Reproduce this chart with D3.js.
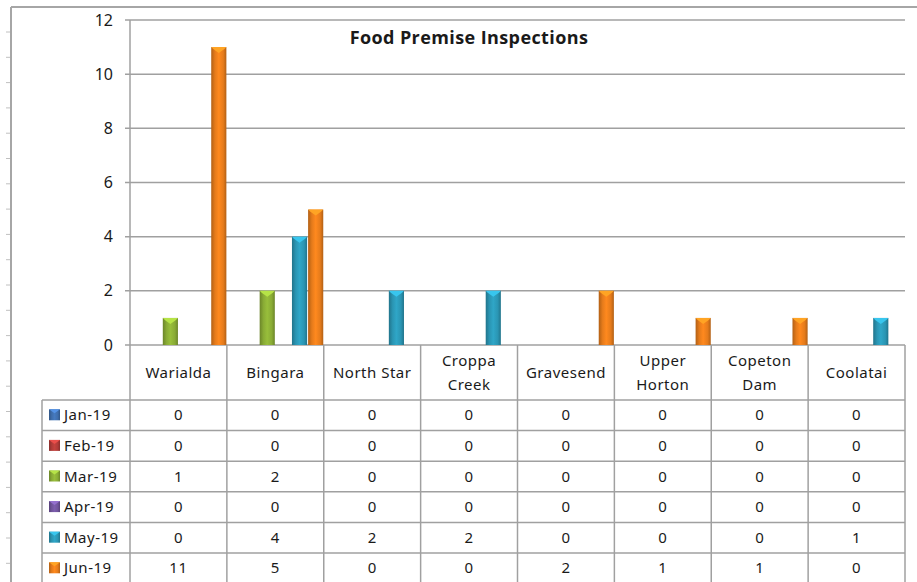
<!DOCTYPE html>
<html lang="en">
<head>
    <meta charset="UTF-8">
    <title>Food Premise Inspections</title>
    <script src="https://cdn.jsdelivr.net/npm/d3@7"></script>
    <style>
        body { margin: 0; background: #fff; }
        text { font-family: "Noto Sans", "Open Sans", sans-serif; fill: #1a1a1a; }
        .tbl { font-size: 15px; letter-spacing: 0.5px; }
    </style>
</head>
<body>
<script>
    const towns = ['Warialda', 'Bingara', 'North Star', 'Croppa Creek', 'Gravesend', 'Upper Horton', 'Copeton Dam', 'Coolatai']
    const townLines = [['Warialda'], ['Bingara'], ['North Star'], ['Croppa', 'Creek'], ['Gravesend'], ['Upper', 'Horton'], ['Copeton', 'Dam'], ['Coolatai']]
    const months = ['Jan-19', 'Feb-19', 'Mar-19', 'Apr-19', 'May-19', 'Jun-19']
    const jan = [0, 0, 0, 0, 0, 0, 0, 0]
    const feb = [0, 0, 0, 0, 0, 0, 0, 0]
    const mar = [1, 2, 0, 0, 0, 0, 0, 0]
    const apr = [0, 0, 0, 0, 0, 0, 0, 0]
    const may = [0, 4, 2, 2, 0, 0, 0, 1]
    const jun = [11, 5, 0, 0, 2, 1, 1, 0]
    const yTicks = [0, 2, 4, 6, 8, 10, 12]
    const colors = ['#3f6eac', '#b03b38', '#89ab35', '#70549b', '#2a95b3', '#e57b1b']

    const series = [jan, feb, mar, apr, may, jun]
    const [width, height] = [917, 582]
    const [plotLeft, plotRight, plotTop, base] = [130, 905, 20, 345]
    const rowTop = 400, rowH = 30.6, keyLeft = 42

    const svg = d3.select('body').append('svg')
        .attr('width', width).attr('height', height)

    const defs = svg.append('defs')
    colors.forEach((c, i) => {
        const g = defs.append('linearGradient').attr('id', 'g' + i)
            .attr('x1', 0).attr('x2', 1).attr('y1', 0).attr('y2', 0)
        const dark = d3.color(c).darker(0.7), light = d3.color(c).brighter(0.3)
        g.append('stop').attr('offset', '0%').attr('stop-color', dark)
        g.append('stop').attr('offset', '25%').attr('stop-color', c)
        g.append('stop').attr('offset', '50%').attr('stop-color', light)
        g.append('stop').attr('offset', '80%').attr('stop-color', c)
        g.append('stop').attr('offset', '100%').attr('stop-color', dark)
    })

    // outer frame with little marks on the left
    svg.append('line').attr('x1', 11).attr('x2', width).attr('y1', 7).attr('y2', 7)
        .attr('stroke', '#a6a6a6').attr('stroke-width', 2)
    svg.append('line').attr('x1', 11).attr('x2', 11).attr('y1', 7).attr('y2', height)
        .attr('stroke', '#a6a6a6').attr('stroke-width', 2)
    svg.selectAll('line.mark').data(d3.range(32, height, 25.3)).enter()
        .append('line').attr('class', 'mark')
        .attr('x1', 6).attr('x2', 10).attr('y1', d => d).attr('y2', d => d)
        .attr('stroke', '#c0c0c0')

    const x = d3.scaleBand().domain(towns).range([plotLeft, plotRight]).padding(0)
    const xs = d3.scaleBand().domain(months).range([0, x.bandwidth()]).padding(0)
    const y = d3.scaleLinear().domain([0, 12]).range([base, plotTop])

    // gridlines + y labels
    svg.selectAll('line.grid').data(yTicks).enter()
        .append('line').attr('class', 'grid')
        .attr('x1', plotLeft - 5).attr('x2', plotRight)
        .attr('y1', d => y(d)).attr('y2', d => y(d))
        .attr('stroke', '#a0a0a0').attr('stroke-width', 1.5)
    svg.selectAll('text.ytick').data(yTicks).enter()
        .append('text').attr('class', 'ytick')
        .attr('x', 113).attr('y', d => y(d) + 5.5)
        .attr('text-anchor', 'end').attr('font-size', 16)
        .text(d => d)
    svg.append('line').attr('x1', plotLeft).attr('x2', plotLeft).attr('y1', plotTop).attr('y2', base)
        .attr('stroke', '#a0a0a0').attr('stroke-width', 1.5)

    svg.append('text').attr('x', 469).attr('y', 44)
        .attr('text-anchor', 'middle').attr('font-size', 18).attr('font-weight', 'bold')
        .style('font-family', '"Open Sans", sans-serif').style('letter-spacing', '0.4px')
        .text('Food Premise Inspections')

    // bars
    const bars = []
    series.forEach((vals, si) => vals.forEach((v, ti) => {
        if (v > 0) bars.push({si, ti, v})
    }))
    const bw = xs.bandwidth() - 1
    const g = svg.selectAll('g.bar').data(bars).enter().append('g').attr('class', 'bar')
    g.append('rect')
        .attr('x', d => x(towns[d.ti]) + xs(months[d.si]) + 0.5)
        .attr('y', d => y(d.v))
        .attr('width', bw)
        .attr('height', d => base - y(d.v))
        .attr('fill', d => `url(#g${d.si})`)
    g.append('polygon')
        .attr('points', d => {
            const x0 = x(towns[d.ti]) + xs(months[d.si]) + 0.5, t = y(d.v)
            return [[x0, t], [x0 + bw, t], [x0 + bw - 2, t + 2], [x0 + bw / 2, t + 6], [x0 + 2, t + 2]].join(' ')
        })
        .attr('fill', d => d3.color(colors[d.si]).brighter(0.8))

    // data table
    const gridColor = '#a0a0a0'
    const tableBottom = rowTop + rowH * months.length
    towns.concat(['end']).forEach((t, i) => {
        const xv = i < towns.length ? x(t) : plotRight
        svg.append('line').attr('x1', xv).attr('x2', xv).attr('y1', base).attr('y2', tableBottom)
            .attr('stroke', gridColor).attr('stroke-width', 1.5)
    })
    svg.append('line').attr('x1', keyLeft).attr('x2', keyLeft).attr('y1', rowTop).attr('y2', tableBottom)
        .attr('stroke', gridColor).attr('stroke-width', 1.5)
    svg.selectAll('line.row').data(d3.range(months.length + 1)).enter()
        .append('line').attr('class', 'row')
        .attr('x1', keyLeft).attr('x2', plotRight)
        .attr('y1', d => rowTop + d * rowH).attr('y2', d => rowTop + d * rowH)
        .attr('stroke', gridColor).attr('stroke-width', 1.5)

    townLines.forEach((lines, i) => {
        const cx = x(towns[i]) + x.bandwidth() / 2
        const t = svg.append('text').attr('class', 'tbl').attr('text-anchor', 'middle')
        lines.forEach((l, k) => {
            t.append('tspan').attr('x', cx)
                .attr('y', lines.length === 1 ? 378 : 366 + k * 24)
                .text(l)
        })
    })

    months.forEach((m, si) => {
        const cy = rowTop + si * rowH + rowH / 2
        svg.append('rect').attr('x', 49).attr('y', cy - 6).attr('width', 11).attr('height', 11)
            .attr('fill', `url(#g${si})`)
        svg.append('polygon')
            .attr('points', [[49, cy - 6], [60, cy - 6], [54.5, cy - 2]].join(' '))
            .attr('fill', d3.color(colors[si]).brighter(0.8))
        svg.append('text').attr('class', 'tbl').attr('x', 64).attr('y', cy + 5).text(m)
        series[si].forEach((v, ti) => {
            svg.append('text').attr('class', 'tbl').attr('x', x(towns[ti]) + x.bandwidth() / 2).attr('y', cy + 5)
                .attr('text-anchor', 'middle').text(v)
        })
    })
</script>
</body>
</html>
